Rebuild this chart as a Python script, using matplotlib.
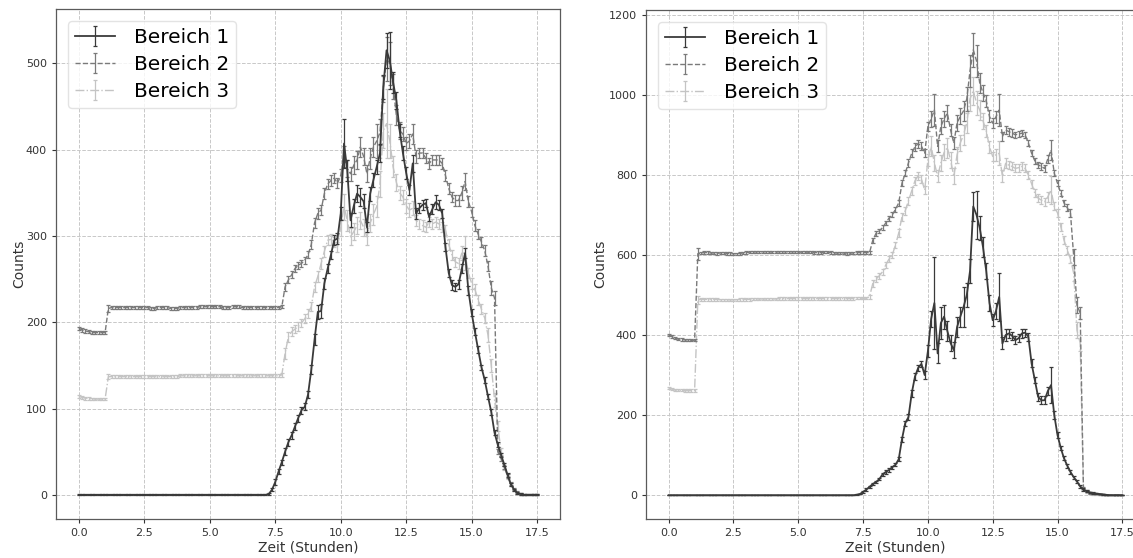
import matplotlib
matplotlib.use('Agg')
import numpy as np
import matplotlib.pyplot as plt

#==========================================================
# Zeitachse: Messung alle 7.5 Minuten (0 - 17.5 h)
#==========================================================
zeit = np.arange(141) * 0.125

#==========================================================
# Daten links (Counts je Bereich, mit Fehlern)
#==========================================================
links_b1 = [0, 0, 0, 0, 0, 0, 0, 0, 0, 0, 0, 0, 0, 0, 0, 0, 0, 0, 0, 0,
            0, 0, 0, 0, 0, 0, 0, 0, 0, 0, 0, 0, 0, 0, 0, 0, 0, 0, 0, 0,
            0, 0, 0, 0, 0, 0, 0, 0, 0, 0, 0, 0, 0, 0, 0, 0, 0, 0, 1, 6,
            15, 27, 38, 50, 61, 69, 79, 89, 98, 102, 116, 145, 180, 212, 213, 245, 262, 278, 295, 297,
            326, 407, 376, 318, 335, 349, 345, 340, 310, 349, 365, 380, 396, 472, 515, 503, 478, 457, 422, 396,
            373, 353, 384, 326, 332, 336, 338, 322, 331, 339, 336, 326, 287, 257, 243, 241, 244, 262, 280, 237,
            211, 189, 168, 148, 133, 114, 96, 72, 58, 46, 35, 23, 12, 6, 2, 1, 0, 0, 0, 0,
            0]
links_b1_err = [0.5, 0.5, 0.5, 0.5, 0.5, 0.5, 0.5, 0.5, 0.5, 0.5, 0.5, 0.5, 0.5, 0.5, 0.5, 0.5, 0.5, 0.5, 0.5, 0.5,
                0.5, 0.5, 0.5, 0.5, 0.5, 0.5, 0.5, 0.5, 0.5, 0.5, 0.5, 0.5, 0.5, 0.5, 0.5, 0.5, 0.5, 0.5, 0.5, 0.5,
                0.5, 0.5, 0.5, 0.5, 0.5, 0.5, 0.5, 0.5, 0.5, 0.5, 0.5, 0.5, 0.5, 0.5, 0.5, 0.5, 0.5, 0.5, 1, 2,
                3, 3, 3, 4, 4, 4, 4, 4, 4, 4, 4, 5, 6, 8, 8, 6, 5, 5, 6, 6,
                8, 28, 12, 8, 8, 10, 10, 8, 6, 8, 8, 8, 10, 14, 20, 33, 12, 10, 8, 8,
                7, 6, 10, 6, 6, 6, 5, 5, 6, 8, 6, 5, 5, 5, 6, 5, 5, 5, 6, 5,
                4, 4, 4, 3, 3, 3, 3, 3, 3, 2, 2, 2, 2, 1, 1, 1, 0.5, 0.5, 0.5, 0.5,
                0.5]

links_b2 = [193, 191, 190, 189, 188, 188, 188, 188, 188, 216, 217, 217, 217, 217, 217, 217, 217, 217, 217, 217,
            217, 217, 216, 216, 217, 217, 217, 217, 216, 216, 216, 217, 217, 217, 217, 217, 217, 218, 218, 218,
            218, 218, 218, 218, 217, 217, 217, 218, 218, 218, 217, 217, 217, 217, 217, 217, 217, 217, 217, 217,
            217, 217, 218, 241, 249, 255, 262, 266, 268, 272, 278, 290, 315, 326, 330, 349, 360, 364, 367, 361,
            370, 392, 378, 372, 382, 388, 403, 392, 372, 390, 403, 410, 420, 470, 505, 500, 473, 440, 422, 418,
            407, 410, 418, 392, 396, 396, 390, 384, 388, 388, 388, 384, 370, 355, 345, 341, 341, 350, 363, 340,
            328, 312, 302, 293, 283, 265, 240, 228, 50, 42, 32, 22, 13, 7, 3, 1, 0, 0, 0, 0,
            0]
links_b2_err = [2, 2, 2, 2, 2, 2, 2, 2, 2, 4, 1.5, 1.5, 1.5, 1.5, 1.5, 1.5, 1.5, 1.5, 1.5, 1.5,
                1.5, 1.5, 1.5, 1.5, 1.5, 1.5, 1.5, 1.5, 1.5, 1.5, 1.5, 1.5, 1.5, 1.5, 1.5, 1.5, 1.5, 1.5, 1.5, 1.5,
                1.5, 1.5, 1.5, 1.5, 1.5, 1.5, 1.5, 1.5, 1.5, 1.5, 1.5, 1.5, 1.5, 1.5, 1.5, 1.5, 1.5, 1.5, 1.5, 1.5,
                1.5, 1.5, 2, 5, 4, 4, 4, 4, 4, 4, 4, 5, 6, 6, 6, 6, 6, 6, 6, 6,
                8, 12, 10, 8, 10, 10, 12, 10, 10, 12, 12, 20, 15, 15, 25, 25, 15, 12, 10, 8,
                8, 8, 12, 8, 6, 6, 6, 6, 6, 6, 6, 6, 6, 6, 6, 6, 6, 8, 10, 6,
                6, 6, 6, 6, 6, 6, 8, 8, 3, 3, 2, 2, 2, 1, 1, 1, 0.5, 0.5, 0.5, 0.5,
                0.5]

links_b3 = [114, 113, 112, 112, 111, 111, 111, 111, 111, 137, 137, 137, 137, 137, 137, 137, 137, 137, 137, 137,
            137, 137, 137, 137, 137, 137, 137, 137, 137, 137, 137, 138, 138, 138, 138, 138, 138, 138, 138, 138,
            138, 138, 138, 138, 138, 138, 138, 138, 138, 138, 138, 138, 138, 138, 138, 138, 138, 138, 138, 138,
            138, 138, 139, 164, 183, 189, 192, 195, 199, 204, 210, 218, 241, 253, 268, 282, 295, 296, 293, 287,
            310, 334, 318, 299, 305, 312, 318, 310, 299, 315, 325, 334, 360, 422, 430, 410, 380, 362, 350, 345,
            335, 330, 332, 318, 314, 312, 310, 316, 314, 316, 314, 310, 307, 290, 278, 270, 268, 280, 280, 257,
            245, 238, 226, 215, 205, 185, 150, 110, 80, 50, 32, 20, 12, 6, 2, 1, 0, 0, 0, 0,
            0]
links_b3_err = [1.5, 1.5, 1.5, 1.5, 1.5, 1.5, 1.5, 1.5, 1.5, 3, 1.5, 1.5, 1.5, 1.5, 1.5, 1.5, 1.5, 1.5, 1.5, 1.5,
                1.5, 1.5, 1.5, 1.5, 1.5, 1.5, 1.5, 1.5, 1.5, 1.5, 1.5, 1.5, 1.5, 1.5, 1.5, 1.5, 1.5, 1.5, 1.5, 1.5,
                1.5, 1.5, 1.5, 1.5, 1.5, 1.5, 1.5, 1.5, 1.5, 1.5, 1.5, 1.5, 1.5, 1.5, 1.5, 1.5, 1.5, 1.5, 1.5, 1.5,
                1.5, 1.5, 2, 6, 6, 5, 5, 5, 5, 5, 5, 5, 6, 6, 6, 6, 6, 6, 6, 6,
                10, 15, 12, 10, 10, 10, 10, 10, 10, 10, 12, 12, 15, 20, 40, 20, 12, 10, 8, 8,
                8, 8, 8, 6, 6, 6, 6, 6, 6, 6, 6, 6, 6, 6, 6, 6, 6, 8, 20, 6,
                6, 6, 6, 6, 6, 8, 8, 8, 6, 4, 3, 2, 2, 1, 1, 1, 0.5, 0.5, 0.5, 0.5,
                0.5]

#==========================================================
# Daten rechts (Counts je Bereich, mit Fehlern)
#==========================================================
rechts_b1 = [0, 0, 0, 0, 0, 0, 0, 0, 0, 0, 0, 0, 0, 0, 0, 0, 0, 0, 0, 0,
             0, 0, 0, 0, 0, 0, 0, 0, 0, 0, 0, 0, 0, 0, 0, 0, 0, 0, 0, 0,
             0, 0, 0, 0, 0, 0, 0, 0, 0, 0, 0, 0, 0, 0, 0, 0, 0, 0, 1, 3,
             8, 14, 21, 28, 33, 40, 52, 58, 63, 70, 76, 90, 140, 180, 195, 254, 296, 318, 328, 300,
             360, 440, 480, 354, 430, 446, 410, 380, 362, 420, 446, 470, 500, 560, 721, 700, 667, 620, 560, 480,
             437, 460, 495, 379, 400, 404, 398, 387, 392, 404, 406, 396, 329, 287, 246, 237, 237, 260, 275, 200,
             150, 118, 92, 74, 58, 45, 34, 22, 14, 10, 7, 5, 4, 3, 2, 1, 0, 0, 0, 0,
             0]
rechts_b1_err = [0.5, 0.5, 0.5, 0.5, 0.5, 0.5, 0.5, 0.5, 0.5, 0.5, 0.5, 0.5, 0.5, 0.5, 0.5, 0.5, 0.5, 0.5, 0.5, 0.5,
                 0.5, 0.5, 0.5, 0.5, 0.5, 0.5, 0.5, 0.5, 0.5, 0.5, 0.5, 0.5, 0.5, 0.5, 0.5, 0.5, 0.5, 0.5, 0.5, 0.5,
                 0.5, 0.5, 0.5, 0.5, 0.5, 0.5, 0.5, 0.5, 0.5, 0.5, 0.5, 0.5, 0.5, 0.5, 0.5, 0.5, 0.5, 0.5, 1, 1,
                 2, 3, 3, 3, 3, 3, 4, 4, 4, 4, 4, 5, 6, 6, 8, 8, 8, 8, 8, 10,
                 15, 20, 115, 25, 40, 30, 25, 20, 20, 25, 25, 50, 30, 30, 35, 60, 30, 25, 20, 20,
                 15, 20, 60, 15, 15, 12, 10, 10, 10, 12, 10, 10, 10, 8, 10, 10, 10, 10, 45, 10,
                 8, 6, 5, 5, 4, 4, 3, 3, 3, 2, 2, 2, 1, 1, 1, 0.5, 0.5, 0.5, 0.5, 0.5,
                 0.5]

rechts_b2 = [400, 396, 392, 390, 389, 388, 388, 387, 387, 603, 605, 606, 606, 605, 605, 604, 605, 605, 604, 604,
             603, 603, 604, 605, 606, 607, 607, 608, 608, 608, 608, 608, 607, 607, 608, 608, 608, 608, 608, 608,
             607, 607, 607, 607, 607, 606, 606, 606, 607, 607, 606, 605, 605, 605, 605, 604, 605, 605, 606, 606,
             606, 606, 606, 637, 654, 660, 668, 680, 692, 700, 714, 730, 779, 804, 830, 854, 870, 878, 872, 854,
             921, 940, 962, 871, 921, 940, 954, 912, 879, 930, 946, 960, 990, 1060, 1112, 1085, 1029, 1005, 985, 946,
             929, 945, 962, 896, 912, 908, 904, 900, 902, 904, 900, 880, 854, 835, 825, 821, 816, 840, 862, 804,
             779, 755, 730, 718, 704, 596, 475, 455, 18, 10, 6, 4, 3, 2, 1, 0, 0, 0, 0, 0,
             0]
rechts_b2_err = [3, 3, 3, 3, 3, 3, 3, 3, 3, 15, 3, 3, 3, 3, 3, 3, 3, 3, 3, 3,
                 3, 3, 3, 3, 3, 3, 3, 3, 3, 3, 3, 3, 3, 3, 3, 3, 3, 3, 3, 3,
                 3, 3, 3, 3, 3, 3, 3, 3, 3, 3, 3, 3, 3, 3, 3, 3, 3, 3, 3, 3,
                 3, 3, 3, 6, 6, 6, 6, 6, 6, 6, 6, 8, 8, 8, 10, 10, 10, 10, 10, 10,
                 12, 20, 40, 15, 20, 20, 20, 15, 15, 20, 20, 25, 30, 40, 42, 40, 25, 20, 15, 15,
                 12, 15, 40, 12, 10, 10, 10, 8, 8, 8, 8, 8, 8, 8, 8, 8, 8, 10, 25, 8,
                 8, 8, 8, 8, 10, 20, 20, 15, 3, 2, 2, 2, 1, 1, 1, 0.5, 0.5, 0.5, 0.5, 0.5,
                 0.5]

rechts_b3 = [268, 265, 263, 262, 262, 261, 261, 261, 261, 488, 489, 489, 489, 489, 489, 489, 488, 488, 488, 488,
             488, 488, 489, 489, 489, 489, 490, 490, 490, 490, 490, 490, 490, 490, 491, 491, 491, 491, 491, 491,
             491, 491, 491, 491, 491, 491, 491, 491, 491, 491, 491, 491, 491, 491, 491, 491, 491, 491, 492, 492,
             492, 492, 496, 529, 540, 548, 558, 575, 590, 600, 625, 655, 695, 710, 735, 760, 785, 798, 790, 762,
             837, 871, 830, 796, 830, 856, 868, 837, 796, 850, 880, 900, 930, 990, 1010, 980, 962, 935, 910, 870,
             846, 850, 854, 796, 829, 824, 821, 816, 818, 821, 816, 800, 778, 754, 742, 737, 733, 745, 762, 721,
             705, 671, 637, 612, 590, 554, 412, 380, 15, 8, 5, 3, 2, 1, 0, 0, 0, 0, 0, 0,
             0]
rechts_b3_err = [3, 3, 3, 3, 3, 3, 3, 3, 3, 10, 3, 3, 3, 3, 3, 3, 3, 3, 3, 3,
                 3, 3, 3, 3, 3, 3, 3, 3, 3, 3, 3, 3, 3, 3, 3, 3, 3, 3, 3, 3,
                 3, 3, 3, 3, 3, 3, 3, 3, 3, 3, 3, 3, 3, 3, 3, 3, 3, 3, 3, 3,
                 3, 3, 5, 8, 8, 8, 8, 8, 8, 8, 8, 10, 10, 10, 10, 10, 10, 10, 10, 10,
                 15, 25, 20, 15, 20, 20, 25, 20, 20, 20, 20, 25, 25, 30, 35, 30, 25, 20, 15, 15,
                 12, 15, 30, 15, 12, 10, 10, 10, 10, 10, 10, 10, 10, 10, 10, 10, 10, 12, 35, 10,
                 10, 10, 10, 10, 10, 20, 20, 20, 3, 2, 2, 2, 1, 1, 0.5, 0.5, 0.5, 0.5, 0.5, 0.5,
                 0.5]

namen = ['Bereich 1', 'Bereich 2', 'Bereich 3']

#==========================================================
# plot
#==========================================================
farben = ['#3a3a3a', '#7a7a7a', '#c4c4c4']
stile = ['-', '--', '-.']
breiten = [1.3, 1.0, 1.0]

fig = plt.figure(figsize=(11.33, 5.58), dpi=100)
ax_l = fig.add_axes([56/1133, 39.5/558, 504/1133, 509.5/558])
ax_r = fig.add_axes([646/1133, 39.5/558, 499/1133, 508.5/558])

def panel(ax, reihen, fehler, ypad):
    for i in range(3):
        ax.errorbar(zeit, reihen[i], yerr=fehler[i], color=farben[i], linestyle=stile[i],
                    linewidth=breiten[i], elinewidth=0.9, capsize=1.6, capthick=0.9,
                    label=namen[i], zorder=4-i)
    ax.grid(True, linestyle='--', color='#c8c8c8', linewidth=0.7)
    ax.set_axisbelow(True)
    ax.set_xlabel('Zeit (Stunden)', fontsize=10, color='#333333', labelpad=2)
    ax.set_ylabel('Counts', fontsize=10, color='#333333', labelpad=ypad)
    ax.tick_params(labelsize=8, colors='#333333', length=3, width=0.8)
    for s in ax.spines.values():
        s.set_color('#5a5a5a')
        s.set_linewidth(0.9)
    leg = ax.legend(loc='upper left', fontsize=14.5, borderaxespad=0.6, borderpad=0.35,
                    handlelength=2.0, labelspacing=0.4, handletextpad=0.9)
    leg.get_frame().set_edgecolor('#dddddd')

panel(ax_l, [links_b1, links_b2, links_b3], [links_b1_err, links_b2_err, links_b3_err], 0)
panel(ax_r, [rechts_b1, rechts_b2, rechts_b3], [rechts_b1_err, rechts_b2_err, rechts_b3_err], 1)

plt.savefig('out.png', dpi=100)
